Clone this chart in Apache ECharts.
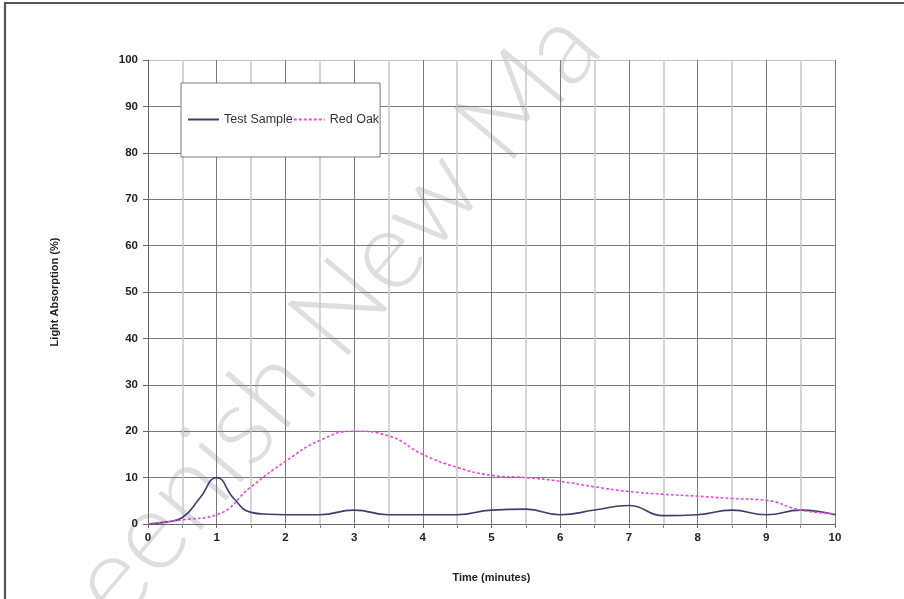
<!DOCTYPE html>
<html><head><meta charset="utf-8">
<script src="https://cdn.jsdelivr.net/npm/echarts@6/dist/echarts.min.js"></script>
<style>html,body{margin:0;padding:0;background:#fff}#c{width:904px;height:599px}</style>
</head><body><div id="c"></div>
<script>
const testTime = [0,0.25,0.5,0.75,1,1.25,1.5,1.75,2,2.5,3,3.5,4,4.5,5,5.5,6,6.5,7,7.5,8,8.5,9,9.5,10];
const testSample = [0,0.4,1.4,5.5,10,5.5,2.5,2.1,2,2,3,2,2,2,3,3.2,2,3,4,1.8,2,3,2,3,2];
const oakTime = [0,0.5,1,1.5,2,2.5,3,3.5,4,4.5,5,5.5,6,6.5,7,7.5,8,8.5,9,9.5,10];
const redOak = [0,0.9,2,8,13.5,18,20,19,15,12.2,10.5,10,9.2,8,7,6.4,6,5.5,5.1,3,2.2];
const xTicks = [0,1,2,3,4,5,6,7,8,9,10];
const yTicks = [0,10,20,30,40,50,60,70,80,90,100];

const pair = (xs, ys) => xs.map((x, i) => [x, ys[i]]);
const chart = echarts.init(document.getElementById('c'));
const labelFont = {fontFamily: 'Liberation Sans, Arial', fontWeight: 'bold', fontSize: 11, color: '#222'};
const gridColors = yTicks.map((v, i) => i === yTicks.length - 1 ? '#b4c4d2' : '#7a7a7a');
chart.setOption({
  animation: false,
  backgroundColor: '#fff',
  graphic: [
    {type: 'text', x: 335, y: 315, rotation: 0.87, z: -10, silent: true,
     style: {text: 'eenish New Ma', fontFamily: 'Lato', fontWeight: 300, fontSize: 112,
             fill: '#dedede', align: 'center', verticalAlign: 'middle'}},
    {type: 'rect', shape: {x: 5, y: 3, width: 1000, height: 1000}, z: 100, silent: true,
     style: {fill: 'none', stroke: '#555', lineWidth: 2.2}}
  ],
  grid: {left: 148, right: 69, top: 60, bottom: 75, containLabel: false},
  legend: {
    left: 181, top: 83, orient: 'horizontal',
    backgroundColor: '#fff', borderColor: '#7a7a7a', borderWidth: 1,
    padding: [30, 1, 31, 6], itemGap: 0, itemWidth: 31, itemHeight: 14,
    itemStyle: {opacity: 0, color: 'rgba(0,0,0,0)', borderWidth: 0},
    textStyle: {fontFamily: 'Liberation Sans, Arial', fontSize: 12.5, color: '#333'},
    data: ['Test Sample', 'Red Oak']
  },
  xAxis: {
    type: 'value', min: 0, max: 10, interval: 1,
    name: 'Time (minutes)', nameLocation: 'middle', nameGap: 48,
    nameTextStyle: labelFont,
    axisLine: {show: true, lineStyle: {color: '#666', width: 1}},
    axisTick: {show: true, length: 4, lineStyle: {color: '#666'}},
    minorTick: {show: true, splitNumber: 2, length: 4, lineStyle: {color: '#888'}},
    axisLabel: Object.assign({margin: 8}, labelFont, {fontSize: 11.5}),
    splitLine: {show: true, lineStyle: {color: '#7a7a7a', width: 1}},
    minorSplitLine: {show: true, lineStyle: {color: '#c8c8c8', width: 1.5}}
  },
  yAxis: {
    type: 'value', min: 0, max: 100, interval: 10,
    name: 'Light Absorption (%)', nameLocation: 'middle', nameGap: 88,
    nameTextStyle: labelFont,
    axisLine: {show: true, lineStyle: {color: '#666', width: 1}},
    axisTick: {show: true, length: 5, lineStyle: {color: '#666'}},
    axisLabel: Object.assign({margin: 10}, labelFont, {fontSize: 11.5}),
    splitLine: {show: true, lineStyle: {color: gridColors, width: 1}}
  },
  series: [
    {name: 'Test Sample', type: 'line', smooth: 0.5, symbol: 'none',
     data: pair(testTime, testSample),
     lineStyle: {color: '#3f3d6e', width: 1.6}, itemStyle: {color: '#3f3d6e'}},
    {name: 'Red Oak', type: 'line', smooth: 0.5, symbol: 'none',
     data: pair(oakTime, redOak),
     lineStyle: {color: '#e050d8', width: 1.6, type: [3, 2]}, itemStyle: {color: '#e050d8'}}
  ]
});
</script></body></html>
